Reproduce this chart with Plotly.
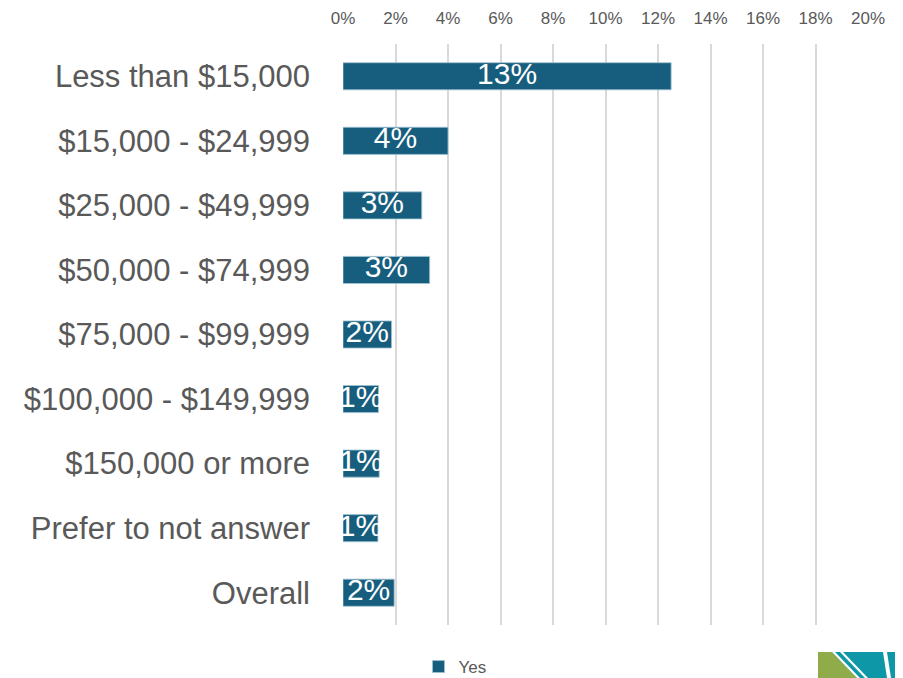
import plotly.graph_objects as go

categories = ["Less than $15,000", "$15,000 - $24,999", "$25,000 - $49,999",
              "$50,000 - $74,999", "$75,000 - $99,999", "$100,000 - $149,999",
              "$150,000 or more", "Prefer to not answer", "Overall"]
yes_values = [12.5, 4.0, 3.0, 3.3, 1.85, 1.35, 1.38, 1.33, 1.95]
value_labels = ["13%", "4%", "3%", "3%", "2%", "1%", "1%", "1%", "2%"]
tick_vals = [0, 2, 4, 6, 8, 10, 12, 14, 16, 18, 20]
tick_text = ["0%", "2%", "4%", "6%", "8%", "10%", "12%", "14%", "16%", "18%", "20%"]

# page body has an 8px margin; figure sized to fill the rest of the window
OFF = 8
W, H = 903 - OFF, 678 - OFF
L, R, T, B = 343 - OFF, 35, 44 - OFF, 53
pw, ph = W - L - R, H - T - B

def px(x):
    return (x - OFF - L) / pw

def py(y):
    return (H - B - (y - OFF)) / ph

BAR = "#175E7E"
GRAY = "#595959"
FONT = "Liberation Sans, Arial"

fig = go.Figure()
fig.add_trace(go.Bar(
    x=yes_values, y=categories, orientation="h", name="Yes",
    marker=dict(color=BAR, line=dict(color="#9fc3d3", width=0.8)),
    hoverinfo="x+y",
))
fig.add_trace(go.Scatter(
    x=[v / 2 for v in yes_values], y=categories, mode="text",
    text=value_labels, textfont=dict(color="white", size=30, family=FONT),
    textposition="middle center", showlegend=False, hoverinfo="skip",
))

def poly(pts, color):
    path = "M " + " L ".join(f"{px(a)} {py(b)}" for a, b in pts) + " Z"
    return dict(type="path", xref="paper", yref="paper", path=path,
                fillcolor=color, line=dict(width=0), layer="above")

shapes = [
    poly([(818, 652), (903, 652), (903, 678), (818, 678)], "#0E97A6"),
    poly([(818, 652), (832, 652), (857, 678), (818, 678)], "#8FAB4A"),
    poly([(832, 652), (835, 652), (860, 678), (857, 678)], "white"),
    poly([(840, 652), (843, 652), (868, 678), (865, 678)], "white"),
    poly([(883, 652), (887, 652), (891, 678), (887, 678)], "white"),
]

fig.update_layout(
    width=W, height=H,
    margin=dict(l=L, r=R, t=T, b=B, pad=0, autoexpand=False),
    paper_bgcolor="white", plot_bgcolor="white",
    bargap=0.58,
    font=dict(family=FONT, color=GRAY),
    xaxis=dict(side="top", range=[0, 20], tickvals=tick_vals, ticktext=tick_text,
               showgrid=True, gridcolor="#D9D9D9", gridwidth=1.5, zeroline=False,
               showline=False, ticks="", tickfont=dict(size=17, color=GRAY),
               ticklabelstandoff=16, fixedrange=True),
    yaxis=dict(autorange="reversed", showgrid=False, zeroline=False, showline=False,
               ticks="", tickfont=dict(size=31, color=GRAY), ticklabelstandoff=32,
               fixedrange=True),
    legend=dict(orientation="h", xref="container", yref="container",
                x=(455 - OFF) / W, xanchor="center",
                y=1 - (667 - OFF) / H, yanchor="middle",
                font=dict(size=17, color=GRAY)),
    showlegend=True,
    shapes=shapes,
)

fig.write_html("out.html")
